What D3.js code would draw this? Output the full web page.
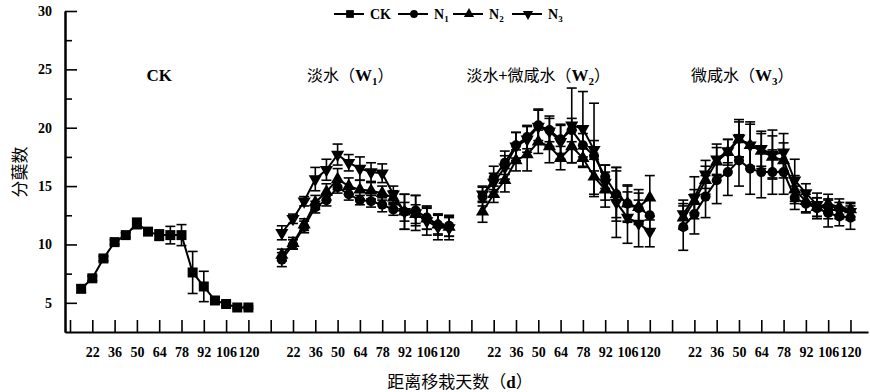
<!DOCTYPE html>
<html>
<head>
<meta charset="utf-8">
<script src="https://cdn.jsdelivr.net/npm/d3@7.9.0/dist/d3.min.js"></script>
<style>
    html, body { margin: 0; padding: 0; background: #fff; }
    svg { display: block; }
</style>
</head>
<body>
<div id="chart"></div>
<script>
"use strict";

// sampling days (same in every panel) and the labelled ticks
const DAYS = [15, 22, 29, 36, 43, 50, 57, 64, 71, 78, 85, 92, 99, 106, 113, 120];
const TICK_DAYS = [8, 22, 36, 50, 64, 78, 92, 106, 120];
const TICK_LABELS = ["", "22", "36", "50", "64", "78", "92", "106", "120"];
const Y_TICKS = [5, 10, 15, 20, 25, 30];
const Y_MINOR = [7.5, 12.5, 17.5, 22.5, 27.5];

// panel titles: text before subscript, subscript
const PANELS = ["CK", "W1", "W2", "W3"];
const PANEL_TITLE_CN = ["", "淡水（", "淡水+微咸水（", "微咸水（"];
const PANEL_TITLE_SUB = ["", "1", "2", "3"];
const PANEL_TITLE_DAY = [64, 58, 50, 52];

// CK panel
const ck_mean = [6.2, 7.1, 8.8, 10.2, 10.8, 11.8, 11.1, 10.8, 10.8, 10.8, 7.6, 6.4, 5.2, 4.9, 4.6, 4.6];
const ck_err  = [0.3, 0.2, 0.2, 0.2, 0.2, 0.45, 0.25, 0.45, 0.75, 0.9, 1.8, 1.3, 0.2, 0.15, 0.1, 0.1];

// fresh water (W1)
const w1_n1 = [8.7, 10.0, 11.5, 13.2, 13.8, 14.9, 14.3, 13.8, 13.7, 13.4, 13.0, 12.8, 12.9, 12.3, 11.7, 11.6];
const w1_n2 = [9.1, 10.1, 11.7, 13.6, 14.5, 15.6, 15.0, 14.7, 14.6, 14.4, 14.0, 12.8, 12.6, 12.2, 11.7, 11.5];
const w1_n3 = [11.0, 12.2, 13.7, 15.6, 16.4, 17.7, 17.0, 16.5, 16.2, 16.1, 14.3, 12.8, 12.7, 12.0, 11.5, 11.4];
const w1_n1_err = [0.6, 0.4, 0.5, 0.5, 0.5, 0.5, 0.5, 0.4, 0.5, 0.6, 0.5, 1.5, 1.3, 1.0, 0.9, 0.9];
const w1_n2_err = [0.5, 0.5, 0.5, 0.6, 0.7, 0.9, 0.7, 0.8, 0.7, 0.6, 0.6, 0.8, 0.8, 0.9, 0.8, 0.8];
const w1_n3_err = [0.6, 0.4, 0.4, 1.0, 0.9, 0.9, 0.7, 1.0, 0.8, 0.8, 0.7, 1.5, 1.5, 1.2, 1.1, 1.0];

// fresh + brackish (W2)
const w2_n1 = [14.1, 15.7, 17.0, 18.5, 19.2, 20.2, 19.8, 19.0, 19.8, 18.5, 17.6, 15.8, 14.3, 13.5, 13.1, 12.5];
const w2_n2 = [12.8, 14.3, 15.5, 17.2, 17.7, 18.8, 18.4, 17.4, 18.4, 17.4, 15.8, 14.7, 14.3, 13.5, 13.2, 14.0];
const w2_n3 = [14.3, 15.3, 16.6, 18.4, 19.0, 20.1, 19.7, 18.8, 20.2, 19.9, 18.1, 15.3, 13.6, 12.3, 11.8, 11.1];
const w2_n1_err = [0.8, 1.0, 1.0, 1.1, 1.0, 1.3, 1.0, 1.2, 1.0, 1.0, 1.3, 1.0, 2.3, 1.6, 1.3, 1.3];
const w2_n2_err = [0.9, 0.7, 1.0, 0.9, 1.4, 1.0, 1.4, 1.0, 1.4, 0.8, 1.5, 1.5, 2.0, 1.5, 1.5, 1.9];
const w2_n3_err = [0.7, 0.8, 1.0, 1.2, 1.1, 1.5, 1.3, 1.5, 3.2, 3.2, 4.0, 1.5, 3.0, 2.2, 2.0, 1.3];

// brackish (W3)
const w3_n1 = [11.5, 12.6, 14.1, 15.5, 16.2, 17.2, 16.5, 16.2, 16.2, 16.2, 14.0, 13.5, 13.1, 12.7, 12.4, 12.3];
const w3_n2 = [12.3, 13.7, 15.5, 17.1, 17.9, 19.0, 18.5, 18.0, 17.5, 17.2, 14.7, 13.7, 13.2, 13.5, 13.2, 13.0];
const w3_n3 = [12.6, 14.0, 16.0, 17.3, 18.0, 19.1, 18.5, 18.2, 17.7, 17.9, 15.5, 14.4, 13.4, 13.0, 12.9, 12.8];
const w3_n1_err = [2.0, 1.7, 1.8, 2.0, 2.0, 2.2, 2.2, 2.2, 1.9, 1.9, 1.0, 0.8, 0.9, 1.2, 0.8, 1.0];
const w3_n2_err = [1.0, 1.0, 1.2, 1.2, 1.1, 1.5, 1.8, 1.5, 1.8, 1.5, 1.2, 0.9, 0.8, 0.8, 0.7, 0.6];
const w3_n3_err = [1.2, 1.8, 1.2, 1.3, 1.0, 1.6, 2.0, 1.5, 2.1, 1.6, 1.8, 0.8, 1.0, 0.8, 0.7, 0.7];

const SERIES = [
    { panel: 0, key: "CK", mean: ck_mean, err: ck_err },
    { panel: 1, key: "N1", mean: w1_n1, err: w1_n1_err },
    { panel: 1, key: "N2", mean: w1_n2, err: w1_n2_err },
    { panel: 1, key: "N3", mean: w1_n3, err: w1_n3_err },
    { panel: 2, key: "N1", mean: w2_n1, err: w2_n1_err },
    { panel: 2, key: "N2", mean: w2_n2, err: w2_n2_err },
    { panel: 2, key: "N3", mean: w2_n3, err: w2_n3_err },
    { panel: 3, key: "N1", mean: w3_n1, err: w3_n1_err },
    { panel: 3, key: "N2", mean: w3_n2, err: w3_n2_err },
    { panel: 3, key: "N3", mean: w3_n3, err: w3_n3_err },
];

const LEGEND_KEYS = ["CK", "N1", "N2", "N3"];

const PANEL_SPAN = 126; // days between panel origins on the shared axis
const SERIF = "'Liberation Serif', 'Times New Roman', serif";
const CJK = "'Noto Sans CJK SC', sans-serif";

const W = 870, H = 392;

const svg = d3.select("#chart").append("svg")
    .attr("width", W)
    .attr("height", H)
    .attr("viewBox", `0 0 ${W} ${H}`);

const x = d3.scaleLinear().domain([4.86, 509]).range([65, 868]);
const y = d3.scaleLinear().domain([2.5, 30]).range([332, 11]);
const gx = (p, d) => x(p * PANEL_SPAN + d);

function symbolFor(key, size) {
    if (key === "CK") return d3.symbol(d3.symbolSquare, size)();
    if (key === "N1") return d3.symbol(d3.symbolCircle, size * 0.8)();
    return d3.symbol(d3.symbolTriangle, size * 0.75)();
}
function rotFor(key) {
    return key === "N3" ? 180 : 0;
}

// Axes

const tick_values = [];
const tick_text = new Map();
PANELS.forEach((p, i) => {
    TICK_DAYS.forEach((d, j) => {
        tick_values.push(i * PANEL_SPAN + d);
        tick_text.set(i * PANEL_SPAN + d, TICK_LABELS[j]);
    });
});

const x_axis = svg.append("g")
    .attr("transform", `translate(0, ${y.range()[0]})`)
    .call(d3.axisBottom(x)
        .tickValues(tick_values)
        .tickFormat((v) => tick_text.get(v))
        .tickSize(-12)
        .tickSizeOuter(0)
        .tickPadding(15));

svg.append("g")
    .attr("transform", `translate(${x.range()[0]}, 0)`)
    .call(d3.axisLeft(y)
        .tickValues(Y_MINOR)
        .tickFormat("")
        .tickSize(-7)
        .tickSizeOuter(0));

const y_axis = svg.append("g")
    .attr("transform", `translate(${x.range()[0]}, 0)`)
    .call(d3.axisLeft(y)
        .tickValues(Y_TICKS)
        .tickSize(-12)
        .tickSizeOuter(0)
        .tickPadding(13));

svg.selectAll(".domain").attr("stroke", "#000").attr("stroke-width", 2);
svg.selectAll(".tick line").attr("stroke", "#000").attr("stroke-width", 1.6);
svg.selectAll(".tick text")
    .attr("font-family", SERIF)
    .attr("font-weight", "bold")
    .attr("font-size", 14)
    .attr("fill", "#000");

// Axis titles
svg.append("text")
    .attr("transform", `translate(26, 172) rotate(-90)`)
    .attr("text-anchor", "middle")
    .attr("font-family", CJK)
    .attr("font-size", 17)
    .text("分蘖数");

const xt = svg.append("text")
    .attr("x", 460)
    .attr("y", 388)
    .attr("text-anchor", "middle")
    .attr("font-family", CJK)
    .attr("font-size", 17);
xt.append("tspan").text("距离移栽天数（");
xt.append("tspan").attr("font-family", SERIF).attr("font-weight", "bold").text("d");
xt.append("tspan").text("）");

// Panel titles
PANELS.forEach((p, i) => {
    const t = svg.append("text")
        .attr("x", gx(i, PANEL_TITLE_DAY[i]))
        .attr("y", 81)
        .attr("text-anchor", "middle")
        .attr("font-size", 17);
    if (p === "CK") {
        t.attr("font-family", SERIF).attr("font-weight", "bold").text("CK");
        return;
    }
    t.attr("font-family", CJK).attr("font-size", 16);
    t.append("tspan").text(PANEL_TITLE_CN[i]);
    t.append("tspan").attr("font-family", SERIF).attr("font-weight", "bold").attr("font-size", 17).text("W");
    t.append("tspan").attr("font-family", SERIF).attr("font-weight", "bold").attr("font-size", 11)
        .attr("dy", 4).text(PANEL_TITLE_SUB[i]);
    t.append("tspan").attr("dy", -4).text("）");
});

// Data

const line = d3.line()
    .x((d) => d.px)
    .y((d) => y(d.v));

const plot = svg.append("g");

for (const s of SERIES) {
    const pts = DAYS.map((d, i) => ({
        px: gx(s.panel, d),
        v: s.mean[i],
        e: s.err[i],
    }));
    const g = plot.append("g");

    // error bars
    const eb = g.selectAll("g.eb").data(pts).join("g").attr("class", "eb")
        .attr("stroke", "#000").attr("stroke-width", 1.6);
    eb.append("line")
        .attr("x1", (d) => d.px).attr("x2", (d) => d.px)
        .attr("y1", (d) => y(d.v - d.e)).attr("y2", (d) => y(d.v + d.e));
    eb.append("line")
        .attr("x1", (d) => d.px - 5).attr("x2", (d) => d.px + 5)
        .attr("y1", (d) => y(d.v + d.e)).attr("y2", (d) => y(d.v + d.e));
    eb.append("line")
        .attr("x1", (d) => d.px - 5).attr("x2", (d) => d.px + 5)
        .attr("y1", (d) => y(d.v - d.e)).attr("y2", (d) => y(d.v - d.e));

    g.append("path")
        .attr("d", line(pts))
        .attr("fill", "none")
        .attr("stroke", "#000")
        .attr("stroke-width", 2);

    g.selectAll("path.mk").data(pts).join("path").attr("class", "mk")
        .attr("d", symbolFor(s.key, 100))
        .attr("transform", (d) => `translate(${d.px}, ${y(d.v)}) rotate(${rotFor(s.key)})`)
        .attr("fill", "#000");
}

// Legend
const legend_x = [334, 398, 453, 512];
const legend = svg.append("g").attr("transform", "translate(0, 14)");
LEGEND_KEYS.forEach((k, i) => {
    const lx = legend_x[i];
    legend.append("line")
        .attr("x1", lx).attr("x2", lx + 30)
        .attr("y1", 0).attr("y2", 0)
        .attr("stroke", "#000").attr("stroke-width", 2);
    legend.append("path")
        .attr("d", symbolFor(k, 60))
        .attr("transform", `translate(${lx + 16}, 0) rotate(${rotFor(k)})`)
        .attr("fill", "#000");
    const t = legend.append("text")
        .attr("x", lx + 36)
        .attr("y", 5)
        .attr("font-family", SERIF)
        .attr("font-weight", "bold")
        .attr("font-size", 14);
    if (k === "CK") {
        t.text("CK");
    } else {
        t.append("tspan").text("N");
        t.append("tspan").attr("font-size", 9).attr("dy", 3).text(k.slice(1));
    }
});
</script>
</body>
</html>
